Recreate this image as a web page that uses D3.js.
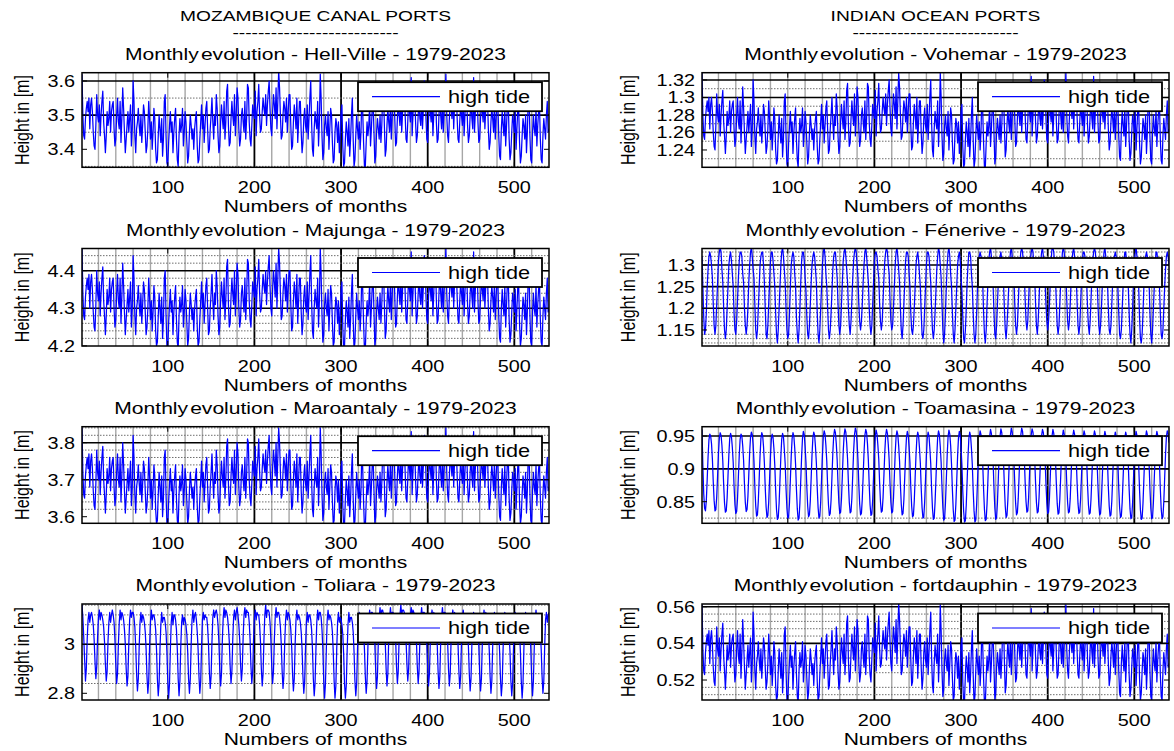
<!DOCTYPE html>
<html>
<head>
<meta charset="utf-8">
<script src="https://cdn.jsdelivr.net/npm/d3@7"></script>
<style>
  body { margin: 0; background: #fff; }
  svg { display: block; }
  text { font-family: "Liberation Sans", Arial, Helvetica, sans-serif; fill: #000; }
</style>
</head>
<body>
<svg id="chart" width="1174" height="751"></svg>
<script>
// monthly mean high tide, Jan 1979 .. Dec 2023, one row per year
var hellVilleCm = [
362,350,344,343,349,352,354,351,355,346,353,355,
351,345,341,340,347,356,350,348,353,344,350,354,
357,348,344,339,344,351,347,349,354,345,351,353,
354,346,341,343,350,355,348,346,354,342,349,358,
352,345,339,343,347,351,345,349,353,341,346,360,
354,344,339,346,348,352,347,344,350,342,347,353,
351,345,339,341,346,354,349,343,348,340,345,352,
349,340,336,337,344,350,346,342,349,338,343,354,
356,344,336,335,342,347,351,345,348,339,345,349,
352,343,337,335,344,349,345,347,352,341,345,351,
348,342,336,338,345,350,347,343,346,340,346,349,
351,341,336,337,343,348,353,346,350,342,347,352,
354,346,339,340,346,350,355,348,343,350,347,356,
352,344,339,341,348,353,349,346,354,343,348,357,
359,347,341,342,349,354,350,347,356,344,350,358,
355,346,341,343,350,352,348,345,354,343,349,359,
358,348,343,341,347,353,351,349,357,344,351,354,
359,350,345,346,351,355,352,350,356,347,353,357,
360,352,346,344,351,356,353,349,358,346,354,363,
358,350,343,344,350,354,352,348,355,345,351,356,
356,347,340,341,348,353,350,346,355,342,348,354,
354,345,339,342,349,352,347,345,353,343,349,355,
360,348,340,338,346,351,348,346,354,341,348,362,
355,344,337,339,347,350,346,344,351,340,346,352,
350,342,336,337,345,349,347,342,348,339,344,351,
353,341,335,336,343,348,345,341,349,338,343,350,
355,343,335,337,344,350,346,343,348,340,345,356,
351,342,335,335,342,348,344,347,353,341,346,352,
354,345,336,338,345,349,346,343,350,342,347,355,
357,347,338,340,347,352,348,345,354,343,349,358,
359,349,341,342,349,354,350,347,356,345,351,355,
358,350,343,342,348,355,351,348,361,344,350,356,
356,348,342,344,350,354,349,347,355,346,352,360,
358,349,343,342,349,353,351,348,356,344,350,357,
359,348,342,343,350,355,350,346,354,345,351,356,
362,350,344,342,349,354,352,349,357,346,353,358,
357,349,343,342,348,353,350,347,355,344,350,356,
356,347,342,344,350,354,349,346,361,345,351,355,
358,348,342,343,349,353,351,348,356,346,352,357,
355,346,340,342,348,352,349,345,353,343,349,354,
353,344,338,337,346,351,347,344,352,341,347,353,
354,343,337,339,345,350,348,345,351,340,346,352,
352,342,336,338,344,349,347,343,350,339,345,354,
355,344,337,336,345,350,346,344,352,341,347,351,
353,343,337,336,344,349,346,343,350,354,345,346
];

var majungaCm = [
446,434,428,427,433,436,438,435,439,430,437,439,
435,429,425,424,431,440,434,432,437,428,434,438,
441,432,428,423,428,435,431,433,438,429,435,437,
438,430,425,427,434,439,432,430,438,426,433,442,
436,429,423,427,431,435,429,433,437,425,430,444,
438,428,423,430,432,436,431,428,434,426,431,437,
435,429,423,425,430,438,433,427,432,424,429,436,
433,424,420,421,428,434,430,426,433,422,427,438,
440,428,420,419,426,431,435,429,432,423,429,433,
436,427,421,419,428,433,429,431,436,425,429,435,
432,426,420,422,429,434,431,427,430,424,430,433,
435,425,420,421,427,432,437,430,434,426,431,436,
438,430,423,424,430,434,439,432,427,434,431,440,
436,428,423,425,432,437,433,430,438,427,432,441,
443,431,425,426,433,438,434,431,440,428,434,442,
439,430,425,427,434,436,432,429,438,427,433,443,
442,432,427,425,431,437,435,433,441,428,435,438,
443,434,429,430,435,439,436,434,440,431,437,441,
444,436,430,428,435,440,437,433,442,430,438,446,
442,434,427,428,434,438,436,432,439,429,435,440,
440,431,424,425,432,437,434,430,439,426,432,438,
438,429,423,426,433,436,431,429,437,427,433,439,
444,432,424,422,430,435,432,430,438,425,432,446,
439,428,421,423,431,434,430,428,435,424,430,436,
434,426,420,421,429,433,431,426,432,423,428,435,
437,425,419,420,427,432,429,425,433,422,427,434,
439,427,419,421,428,434,430,427,432,424,429,440,
435,426,419,419,426,432,428,431,437,425,430,436,
438,429,420,422,429,433,430,427,434,426,431,439,
441,431,422,424,431,436,432,429,438,427,433,442,
443,433,425,426,433,438,434,431,440,429,435,439,
442,434,427,426,432,439,435,432,445,428,434,440,
440,432,426,428,434,438,433,431,439,430,436,444,
442,433,427,426,433,437,435,432,440,428,434,441,
443,432,426,427,434,439,434,430,438,429,435,440,
446,434,428,426,433,438,436,433,441,430,437,442,
441,433,427,426,432,437,434,431,439,428,434,440,
440,431,426,428,434,438,433,430,445,429,435,439,
442,432,426,427,433,437,435,432,440,430,436,441,
439,430,424,426,432,436,433,429,437,427,433,438,
437,428,422,421,430,435,431,428,436,425,431,437,
438,427,421,423,429,434,432,429,435,424,430,436,
436,426,420,422,428,433,431,427,434,423,429,438,
439,428,421,420,429,434,430,428,436,425,431,435,
437,427,421,420,428,433,430,427,434,438,429,430
];

var maroantalyCm = [
384,372,366,365,371,374,376,373,377,368,375,377,
373,367,363,362,369,378,372,370,375,366,372,376,
379,370,366,361,366,373,369,371,376,367,373,375,
376,368,363,365,372,377,370,368,376,364,371,380,
374,367,361,365,369,373,367,371,375,363,368,382,
376,366,361,368,370,374,369,366,372,364,369,375,
373,367,361,363,368,376,371,365,370,362,367,374,
371,362,358,359,366,372,368,364,371,360,365,376,
378,366,358,357,364,369,373,367,370,361,367,371,
374,365,359,357,366,371,367,369,374,363,367,373,
370,364,358,360,367,372,369,365,368,362,368,371,
373,363,358,359,365,370,375,368,372,364,369,374,
376,368,361,362,368,372,377,370,365,372,369,378,
374,366,361,363,370,375,371,368,376,365,370,379,
381,369,363,364,371,376,372,369,378,366,372,380,
377,368,363,365,372,374,370,367,376,365,371,381,
380,370,365,363,369,375,373,371,379,366,373,376,
381,372,367,368,373,377,374,372,378,369,375,379,
382,374,368,366,373,378,375,371,380,368,376,384,
380,372,365,366,372,376,374,370,377,367,373,378,
378,369,362,363,370,375,372,368,377,364,370,376,
376,367,361,364,371,374,369,367,375,365,371,377,
382,370,362,360,368,373,370,368,376,363,370,384,
377,366,359,361,369,372,368,366,373,362,368,374,
372,364,358,359,367,371,369,364,370,361,366,373,
375,363,357,358,365,370,367,363,371,360,365,372,
377,365,357,359,366,372,368,365,370,362,367,378,
373,364,357,357,364,370,366,369,375,363,368,374,
376,367,358,360,367,371,368,365,372,364,369,377,
379,369,360,362,369,374,370,367,376,365,371,380,
381,371,363,364,371,376,372,369,378,367,373,377,
380,372,365,364,370,377,373,370,383,366,372,378,
378,370,364,366,372,376,371,369,377,368,374,382,
380,371,365,364,371,375,373,370,378,366,372,379,
381,370,364,365,372,377,372,368,376,367,373,378,
384,372,366,364,371,376,374,371,379,368,375,380,
379,371,365,364,370,375,372,369,377,366,372,378,
378,369,364,366,372,376,371,368,383,367,373,377,
380,370,364,365,371,375,373,370,378,368,374,379,
377,368,362,364,370,374,371,367,375,365,371,376,
375,366,360,359,368,373,369,366,374,363,369,375,
376,365,359,361,367,372,370,367,373,362,368,374,
374,364,358,360,366,371,369,365,372,361,367,376,
377,366,359,358,367,372,368,366,374,363,369,373,
375,365,359,358,366,371,368,365,372,376,367,368
];

var toliaraCm = [
316,311,303,294,285,290,302,310,313,309,312,313,
311,308,302,293,286,291,303,311,314,310,313,312,
310,307,301,292,285,289,301,309,313,309,312,314,
312,309,302,292,284,288,300,309,314,310,313,312,
310,306,300,290,283,287,300,310,314,311,313,313,
311,307,299,288,281,286,299,309,313,309,312,311,
309,305,298,287,280,285,299,309,314,310,312,312,
310,306,298,286,279,284,298,308,313,309,311,311,
309,305,297,285,278,284,298,309,313,308,312,312,
310,306,298,286,279,285,299,309,312,308,311,310,
308,304,297,286,280,286,300,310,314,309,312,313,
310,305,298,287,280,285,299,310,313,310,312,311,
311,307,300,289,282,287,301,311,314,311,313,314,
312,308,301,290,283,288,302,311,315,311,314,313,
311,307,301,291,284,289,302,311,314,310,313,315,
312,308,302,292,285,290,303,312,315,311,314,313,
313,309,302,291,284,289,302,311,314,310,313,312,
312,308,301,290,283,288,302,312,316,311,314,314,
313,309,302,291,284,289,302,311,315,311,313,313,
311,307,300,289,282,287,301,310,314,310,313,312,
310,306,299,288,281,286,300,310,314,310,312,311,
309,305,298,287,280,285,299,309,313,309,312,312,
310,306,298,286,279,284,298,309,314,310,313,313,
311,306,298,285,278,284,298,310,314,310,312,311,
309,305,297,285,278,283,298,309,313,309,311,310,
308,304,296,284,278,283,297,308,313,309,311,311,
309,305,297,285,279,284,298,309,313,310,312,312,
310,306,298,287,280,285,299,310,314,310,313,313,
311,307,300,289,282,287,301,311,315,311,314,314,
312,308,301,290,283,288,302,311,315,311,313,313,
312,308,302,291,284,289,302,312,316,312,314,314,
313,309,302,292,285,290,303,312,315,311,314,313,
312,308,301,291,284,289,302,311,315,311,313,313,
311,307,300,290,283,288,301,311,314,310,313,312,
311,307,300,289,282,287,301,311,315,311,313,313,
312,308,301,290,283,288,302,311,314,310,313,312,
311,307,300,289,282,287,301,310,314,310,312,312,
310,306,299,288,281,286,300,310,313,309,312,311,
310,306,299,288,281,286,300,310,314,310,313,312,
309,305,298,287,280,285,299,309,313,309,312,311,
309,305,297,286,279,284,298,309,313,309,311,311,
308,304,297,285,279,284,298,309,313,310,312,312,
309,305,297,285,278,284,298,309,313,309,311,311,
310,306,298,286,279,285,299,310,314,310,312,312,
309,305,298,287,280,285,299,310,313,309,312,313
];

var vohemarMm = [
1328,1280,1256,1252,1276,1288,1296,1284,1300,1264,1292,1300,
1284,1260,1244,1240,1268,1304,1280,1272,1292,1256,1280,1296,
1308,1272,1256,1236,1256,1284,1268,1276,1296,1260,1284,1292,
1296,1264,1244,1252,1280,1300,1272,1264,1296,1248,1276,1312,
1288,1260,1236,1252,1268,1284,1260,1276,1292,1244,1264,1320,
1296,1256,1236,1264,1272,1288,1268,1256,1280,1248,1268,1292,
1284,1260,1236,1244,1264,1296,1276,1252,1272,1240,1260,1288,
1276,1240,1224,1228,1256,1280,1264,1248,1276,1232,1252,1296,
1304,1256,1224,1220,1248,1268,1284,1260,1272,1236,1260,1276,
1288,1252,1228,1220,1256,1276,1260,1268,1288,1244,1260,1284,
1272,1248,1224,1232,1260,1280,1268,1252,1264,1240,1264,1276,
1284,1244,1224,1228,1252,1272,1292,1264,1280,1248,1268,1288,
1296,1264,1236,1240,1264,1280,1300,1272,1252,1280,1268,1304,
1288,1256,1236,1244,1272,1292,1276,1264,1296,1252,1272,1308,
1316,1268,1244,1248,1276,1296,1280,1268,1304,1256,1280,1312,
1300,1264,1244,1252,1280,1288,1272,1260,1296,1252,1276,1316,
1312,1272,1252,1244,1268,1292,1284,1276,1308,1256,1284,1296,
1316,1280,1260,1264,1284,1300,1288,1280,1304,1268,1292,1308,
1320,1288,1264,1256,1284,1304,1292,1276,1312,1264,1296,1328,
1312,1280,1252,1256,1280,1296,1288,1272,1300,1260,1284,1304,
1304,1268,1240,1244,1272,1292,1280,1264,1300,1248,1272,1296,
1296,1260,1236,1248,1276,1288,1268,1260,1292,1252,1276,1300,
1320,1272,1240,1232,1264,1284,1272,1264,1296,1244,1272,1328,
1300,1256,1228,1236,1268,1280,1264,1256,1284,1240,1264,1288,
1280,1248,1224,1228,1260,1276,1268,1248,1272,1236,1256,1284,
1292,1244,1220,1224,1252,1272,1260,1244,1276,1232,1252,1280,
1300,1252,1220,1228,1256,1280,1264,1252,1272,1240,1260,1304,
1284,1248,1220,1220,1248,1272,1256,1268,1292,1244,1264,1288,
1296,1260,1224,1232,1260,1276,1264,1252,1280,1248,1268,1300,
1308,1268,1232,1240,1268,1288,1272,1260,1296,1252,1276,1312,
1316,1276,1244,1248,1276,1296,1280,1268,1304,1260,1284,1300,
1312,1280,1252,1248,1272,1300,1284,1272,1324,1256,1280,1304,
1304,1272,1248,1256,1280,1296,1276,1268,1300,1264,1288,1320,
1312,1276,1252,1248,1276,1292,1284,1272,1304,1256,1280,1308,
1316,1272,1248,1252,1280,1300,1280,1264,1296,1260,1284,1304,
1328,1280,1256,1248,1276,1296,1288,1276,1308,1264,1292,1312,
1308,1276,1252,1248,1272,1292,1280,1268,1300,1256,1280,1304,
1304,1268,1248,1256,1280,1296,1276,1264,1324,1260,1284,1300,
1312,1272,1248,1252,1276,1292,1284,1272,1304,1264,1288,1308,
1300,1264,1240,1248,1272,1288,1276,1260,1292,1252,1276,1296,
1292,1256,1232,1228,1264,1284,1268,1256,1288,1244,1268,1292,
1296,1252,1228,1236,1260,1280,1272,1260,1284,1240,1264,1288,
1288,1248,1224,1232,1256,1276,1268,1252,1280,1236,1260,1296,
1300,1256,1228,1224,1260,1280,1264,1256,1288,1244,1268,1284,
1292,1252,1228,1224,1256,1276,1264,1252,1280,1296,1260,1264
];

var feneriveCm = [
132,125,118,114,115,119,125,129,132,133,132,130,
127,121,116,114,116,121,126,131,133,134,133,129,
126,120,115,113,115,120,125,130,132,133,131,128,
125,119,115,114,117,122,127,131,133,133,132,128,
126,120,116,114,116,120,126,130,133,134,132,129,
127,121,115,113,115,120,125,130,132,133,133,130,
126,120,114,113,116,121,126,131,133,133,131,128,
125,119,114,112,115,120,125,130,133,134,132,129,
126,120,115,113,114,119,125,130,132,133,132,128,
125,118,114,112,115,120,126,131,133,133,131,127,
124,118,114,113,116,121,126,130,132,133,132,129,
126,119,114,112,115,120,125,130,133,134,132,128,
125,120,115,113,115,119,124,129,132,133,133,130,
127,121,116,114,116,121,126,131,133,134,132,129,
126,120,116,114,117,122,127,131,133,134,133,130,
127,121,117,115,117,121,126,130,133,134,132,129,
126,120,116,114,116,121,126,131,133,133,132,129,
127,121,117,115,117,122,127,131,133,134,133,130,
128,122,117,115,116,120,125,130,133,134,132,129,
126,120,115,113,116,121,126,131,133,133,132,128,
125,119,115,114,116,120,125,130,132,133,131,128,
125,119,114,113,115,120,125,130,133,133,132,129,
126,120,115,113,115,119,124,129,132,134,133,130,
127,121,115,112,114,119,125,130,133,134,132,128,
125,119,114,112,115,120,125,130,132,133,131,127,
124,118,113,112,115,120,126,130,133,133,132,128,
125,119,114,112,114,119,125,130,132,133,132,129,
126,119,114,112,115,121,126,131,133,134,132,128,
125,119,114,113,116,121,126,130,132,133,131,128,
126,120,115,113,116,120,125,130,133,134,132,129,
127,121,116,114,116,121,126,131,133,134,133,130,
128,122,117,115,117,122,127,131,133,134,133,130,
127,121,116,114,117,122,127,131,133,134,132,129,
126,121,117,115,117,121,126,131,134,134,133,130,
127,121,116,114,116,121,126,130,133,134,133,130,
128,122,117,115,117,121,126,131,133,134,132,129,
127,121,116,114,116,121,126,131,133,133,132,129,
126,120,116,114,117,122,127,131,133,134,133,130,
127,121,116,114,116,120,125,130,133,134,132,129,
126,120,115,114,116,121,126,130,132,133,132,128,
125,119,114,113,115,120,125,130,133,133,131,128,
125,119,114,112,115,120,126,131,133,134,132,128,
125,118,113,112,114,119,125,130,132,133,132,129,
126,119,114,112,115,120,125,130,133,133,131,128,
125,119,114,113,115,120,125,129,132,133,132,130
];

var toamasinaMm = [
960,905,862,840,836,852,884,918,944,953,950,938,
915,880,852,836,838,858,890,924,947,955,951,936,
912,876,848,834,836,856,889,922,946,954,949,933,
910,874,846,832,835,855,888,921,945,953,950,935,
913,877,849,835,838,858,891,925,948,956,952,937,
911,873,844,828,830,851,885,920,946,955,951,934,
909,871,842,826,829,850,884,919,944,953,948,931,
906,868,838,823,826,848,883,918,945,954,949,930,
908,870,840,824,827,849,884,920,946,955,950,932,
907,869,839,822,825,848,883,919,947,957,952,934,
910,872,843,827,830,851,886,922,948,956,951,933,
909,871,841,825,828,850,885,921,949,958,953,936,
912,874,845,829,832,853,888,924,950,960,955,938,
914,877,848,832,834,855,890,926,951,961,956,939,
915,878,849,833,835,856,891,927,952,962,957,940,
914,876,846,830,832,854,889,925,951,960,955,938,
913,875,845,829,831,853,888,924,950,959,953,936,
915,879,850,834,836,857,891,926,951,960,954,937,
914,878,849,833,835,855,889,924,949,958,952,935,
912,875,846,830,832,853,887,922,948,957,951,934,
910,872,843,827,829,851,886,921,947,956,950,932,
909,871,841,825,827,850,885,920,947,956,950,931,
908,870,840,823,825,849,884,920,948,958,952,934,
910,872,841,822,824,848,884,921,949,959,953,935,
907,868,837,820,822,846,882,919,947,957,951,932,
905,866,835,819,821,845,881,918,946,956,950,931,
906,867,836,819,822,846,882,920,948,958,952,933,
908,869,838,821,823,847,883,921,949,960,954,936,
910,871,840,823,826,849,885,922,950,961,955,937,
912,874,843,826,829,852,887,924,951,962,956,939,
914,877,847,830,833,855,890,926,952,962,957,940,
916,879,850,834,836,857,891,927,952,961,956,939,
915,878,849,833,835,856,890,925,951,960,955,938,
914,877,848,832,834,855,889,924,950,960,954,937,
913,876,847,831,833,854,888,923,949,959,953,936,
914,877,848,833,835,855,889,924,950,959,953,936,
913,876,847,832,834,855,889,923,949,958,952,935,
912,875,846,831,833,854,888,923,949,958,952,935,
911,874,845,830,832,853,887,922,948,957,951,934,
910,872,843,828,830,851,886,921,947,956,950,932,
909,871,841,826,828,850,885,920,947,956,950,932,
908,869,839,824,826,849,884,920,947,957,951,933,
907,868,838,823,825,848,884,921,948,958,952,934,
909,870,840,824,826,849,885,921,948,957,951,933,
908,869,839,824,827,850,886,922,949,958,953,940
];

var fortdauphinMm = [
561,537,525,523,535,541,545,539,547,529,543,547,
539,527,519,517,531,549,537,533,543,525,537,545,
551,533,525,515,525,539,531,535,545,527,539,543,
545,529,519,523,537,547,533,529,545,521,535,553,
541,527,515,523,531,539,527,535,543,519,529,557,
545,525,515,529,533,541,531,525,537,521,531,543,
539,527,515,519,529,545,535,523,533,517,527,541,
535,517,509,511,525,537,529,521,535,513,523,545,
549,525,509,507,521,531,539,527,533,515,527,535,
541,523,511,507,525,535,527,531,541,519,527,539,
533,521,509,513,527,537,531,523,529,517,529,535,
539,519,509,511,523,533,543,529,537,521,531,541,
545,529,515,517,529,537,547,533,523,537,531,549,
541,525,515,519,533,543,535,529,545,523,533,551,
555,531,519,521,535,545,537,531,549,525,537,553,
547,529,519,523,537,541,533,527,545,523,535,555,
553,533,523,519,531,543,539,535,551,525,539,545,
555,537,527,529,539,547,541,537,549,531,543,551,
557,541,529,525,539,549,543,535,553,529,545,562,
553,537,523,525,537,545,541,533,547,527,539,549,
549,531,517,519,533,543,537,529,547,521,533,545,
545,527,515,521,535,541,531,527,543,523,535,547,
557,533,517,513,529,539,533,529,545,519,533,561,
547,525,511,515,531,537,529,525,539,517,529,541,
537,521,509,511,527,535,531,521,533,515,525,539,
543,519,507,509,523,533,527,519,535,513,523,537,
547,523,507,511,525,537,529,523,533,517,527,549,
539,521,507,507,521,533,525,531,543,519,529,541,
545,527,509,513,527,535,529,523,537,521,531,547,
551,531,513,517,531,541,533,527,545,523,535,553,
555,535,519,521,535,545,537,531,549,527,539,547,
553,537,523,521,533,547,539,533,559,525,537,549,
549,533,521,525,537,545,535,531,547,529,541,557,
553,535,523,521,535,543,539,533,549,525,537,551,
555,533,521,523,537,547,537,529,545,527,539,549,
561,537,525,521,535,545,541,535,551,529,543,553,
551,535,523,521,533,543,537,531,547,525,537,549,
549,531,521,525,537,545,535,529,559,527,539,547,
553,533,521,523,535,543,539,533,549,529,541,551,
547,529,517,521,533,541,535,527,543,523,535,545,
543,525,513,511,529,539,531,525,541,519,531,543,
545,523,511,515,527,537,533,527,539,517,529,541,
541,521,509,513,525,535,531,523,537,515,527,545,
547,525,511,509,527,537,529,525,541,519,531,539,
543,523,511,509,525,535,529,523,537,545,527,529
];

var portNames = ['Hell-Ville', 'Majunga', 'Maroantaly', 'Toliara',
                 'Vohemar', 'Fénerive', 'Toamasina', 'fortdauphin'];
var portSeries = [hellVilleCm, majungaCm, maroantalyCm, toliaraCm,
                  vohemarMm, feneriveCm, toamasinaMm, fortdauphinMm];
var unitPerMetre = [100, 100, 100, 100, 1000, 100, 1000, 1000];
var yTicks = [[3.4, 3.5, 3.6], [4.2, 4.3, 4.4], [3.6, 3.7, 3.8], [2.8, 3],
              [1.24, 1.26, 1.28, 1.3, 1.32], [1.15, 1.2, 1.25, 1.3],
              [0.85, 0.9, 0.95], [0.52, 0.54, 0.56]];
var yLimits = [[3.3473, 3.6243], [4.1997, 4.459], [3.5822, 3.8432], [2.7727, 3.1645],
               [1.2202, 1.3283], [1.113, 1.3381], [0.8171, 0.9642], [0.5091, 0.5615]];
var minorSteps = [0.05, 0.02, 0.02, 0.04, 0.01, 0.01, 0.025, 0.004];
var xTicks = [100, 200, 300, 400, 500];
var columnTitles = ['MOZAMBIQUE CANAL PORTS', 'INDIAN OCEAN PORTS'];

// layout
var colX = [[82, 549], [702, 1169]];
var rowY = [[72.7, 167.3], [248.5, 346], [426.7, 523.3], [604, 700]];
var yLabelX = [22, 628];
var SX = 1.24; // the picture is stretched sideways, and so are its letters

var svg = d3.select('#chart');

var addText = function(parent, x, y, str, size, anchor) {
    return parent.append('g')
        .attr('transform', 'translate(' + x + ',' + y + ') scale(' + SX + ',1)')
      .append('text')
        .attr('text-anchor', anchor || 'middle')
        .style('font-size', size + 'px')
        .text(str);
};

// column headers
columnTitles.forEach(function(t, c) {
    var cx = (colX[c][0] + colX[c][1]) / 2;
    addText(svg, cx, 21, t, 15.5);
    addText(svg, cx, 38, '--------------------------', 15.5);
});

portNames.forEach(function(name, i) {
    var col = i < 4 ? 0 : 1,
        row = i % 4,
        x0 = colX[col][0], x1 = colX[col][1],
        y0 = rowY[row][0], y1 = rowY[row][1];

    var x = d3.scaleLinear().domain([1, 540]).range([x0, x1]),
        y = d3.scaleLinear().domain(yLimits[i]).range([y1, y0]);

    var g = svg.append('g');

    g.append('clipPath').attr('id', 'clip' + i)
      .append('rect')
        .attr('x', x0).attr('y', y0)
        .attr('width', x1 - x0).attr('height', y1 - y0);

    // grey vertical grid every 20 months, black at the big hundreds
    g.selectAll('.vgrid').data(d3.range(20, 540, 20)).enter()
      .append('line')
        .attr('x1', x).attr('x2', x)
        .attr('y1', y0).attr('y2', y1)
        .attr('stroke', function(d) { return d >= 200 && d % 100 === 0 ? '#000' : '#a6a6a6'; })
        .attr('stroke-width', function(d) { return d >= 200 && d % 100 === 0 ? 1.8 : 1.4; });

    // dotted minor grid
    var step = minorSteps[i], lo = yLimits[i][0], hi = yLimits[i][1], minor = [];
    for (var k = Math.ceil(lo / step - 1e-6); k * step <= hi + 1e-9; k++) {
        var v = +(k * step).toFixed(4);
        if (yTicks[i].every(function(t) { return Math.abs(t - v) > 1e-6; })) minor.push(v);
    }
    g.selectAll('.mgrid').data(minor).enter()
      .append('line')
        .attr('x1', x0).attr('x2', x1)
        .attr('y1', y).attr('y2', y)
        .attr('stroke', '#6e6e6e')
        .attr('stroke-width', 1)
        .attr('stroke-dasharray', '1.5,1.5');

    // black grid at the labelled heights (not the lowest one)
    g.selectAll('.hgrid').data(yTicks[i].slice(1)).enter()
      .append('line')
        .attr('x1', x0).attr('x2', x1)
        .attr('y1', y).attr('y2', y)
        .attr('stroke', '#000')
        .attr('stroke-width', 1.6);

    // the series
    var div = unitPerMetre[i];
    var line = d3.line()
        .x(function(d, j) { return x(j + 1); })
        .y(function(d) { return y(d / div); });
    g.append('path')
        .datum(portSeries[i])
        .attr('clip-path', 'url(#clip' + i + ')')
        .attr('fill', 'none')
        .attr('stroke', '#0000ff')
        .attr('stroke-width', 1.25)
        .attr('stroke-linejoin', 'round')
        .attr('d', line);

    // box and inward ticks
    g.append('rect')
        .attr('x', x0).attr('y', y0)
        .attr('width', x1 - x0).attr('height', y1 - y0)
        .attr('fill', 'none')
        .attr('stroke', '#000')
        .attr('stroke-width', 1.5);
    xTicks.forEach(function(t) {
        g.append('line').attr('x1', x(t)).attr('x2', x(t)).attr('y1', y1).attr('y2', y1 - 5)
            .attr('stroke', '#000');
        g.append('line').attr('x1', x(t)).attr('x2', x(t)).attr('y1', y0).attr('y2', y0 + 5)
            .attr('stroke', '#000');
        addText(g, x(t), y1 + 26, String(t), 16);
    });
    yTicks[i].forEach(function(t) {
        g.append('line').attr('x1', x0).attr('x2', x0 + 5).attr('y1', y(t)).attr('y2', y(t))
            .attr('stroke', '#000');
        g.append('line').attr('x1', x1).attr('x2', x1 - 5).attr('y1', y(t)).attr('y2', y(t))
            .attr('stroke', '#000');
        addText(g, x0 - 7, y(t) + 6, String(t), 16, 'end');
    });

    // titles and labels
    var title = addText(g, (x0 + x1) / 2, y0 - 12.7, '', 17);
    title.append('tspan').text('Monthly');
    title.append('tspan').attr('dx', -3).text(' evolution - ' + name + ' - 1979-2023');
    addText(g, (x0 + x1) / 2, y1 + 44.5, 'Numbers of months', 17);
    g.append('g')
        .attr('transform', 'translate(' + yLabelX[col] + ',' + (y0 + y1) / 2 + ') scale(' + SX + ',1) rotate(-90)')
      .append('text')
        .attr('text-anchor', 'middle')
        .attr('dy', '0.35em')
        .style('font-size', '16px')
        .text('Height in [m]');

    // legend
    var lx = x1 - 191, ly = y0 + 9.5;
    g.append('rect')
        .attr('x', lx).attr('y', ly)
        .attr('width', 184).attr('height', 29)
        .attr('fill', '#fff')
        .attr('stroke', '#000')
        .attr('stroke-width', 1.8);
    g.append('line')
        .attr('x1', lx + 14).attr('x2', lx + 82)
        .attr('y1', ly + 14.5).attr('y2', ly + 14.5)
        .attr('stroke', '#0000ff')
        .attr('stroke-width', 1.2);
    addText(g, lx + 90, ly + 20.5, 'high tide', 17.5, 'start');
});
</script>
</body>
</html>
